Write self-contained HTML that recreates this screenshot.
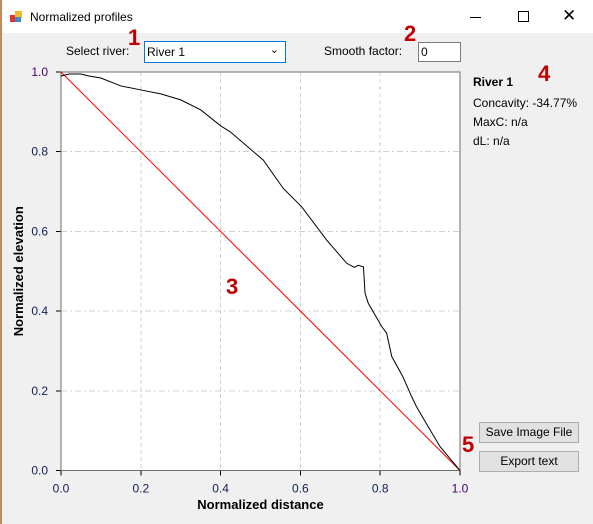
<!DOCTYPE html>
<html><head><meta charset="utf-8"><style>
body{margin:0;width:593px;height:524px;overflow:hidden;background:#f0f0f0;font-family:"Liberation Sans",sans-serif;position:relative}
.abs{position:absolute}
.t{font-size:12px;color:#000}
.red{color:#c00000;font-weight:bold;font-size:22px}
.btn{position:absolute;background:#e1e1e1;border:1px solid #adadad;box-sizing:border-box;font-size:12px;text-align:center;line-height:18px}
</style></head><body>
<div class="abs" style="left:0;top:0;width:2px;height:524px;background:#c8875a"></div>
<div class="abs" style="left:2px;top:0;width:591px;height:33px;background:#fff"></div>
<div class="abs" style="left:10px;top:11px;width:12px;height:12px;">
 <div class="abs" style="left:0;top:4px;width:6px;height:7px;background:#d33"></div>
 <div class="abs" style="left:5px;top:0;width:7px;height:7px;background:#eb3"></div>
 <div class="abs" style="left:5px;top:6px;width:6px;height:5px;background:#48c"></div>
</div>
<div class="abs t" style="left:30px;top:10px">Normalized profiles</div>
<div class="abs" style="left:470px;top:17px;width:11px;height:1px;background:#000"></div>
<div class="abs" style="left:518px;top:11px;width:9px;height:9px;border:1px solid #000"></div>
<div class="abs" style="left:562px;top:6px;font-size:17px">✕</div>

<div class="abs t" style="left:66px;top:44px">Select river:</div>
<div class="abs" style="left:144px;top:41px;width:142px;height:22px;box-sizing:border-box;border:1px solid #0078d7;background:#fff;font-size:12px;padding:3px 2px">River 1<span style="position:absolute;right:6px;top:1px;font-size:11px">⌄</span></div>
<div class="abs red" style="left:128px;top:25px">1</div>
<div class="abs t" style="left:324px;top:44px">Smooth factor:</div>
<div class="abs" style="left:418px;top:42px;width:43px;height:20px;box-sizing:border-box;border:1px solid #7a7a7a;background:#fff;font-size:12px;padding:2px 2px">0</div>
<div class="abs red" style="left:404px;top:21px">2</div>

<div class="abs t" style="left:473px;top:75px;font-weight:bold">River 1</div>
<div class="abs red" style="left:538px;top:61px">4</div>
<div class="abs t" style="left:473px;top:96px">Concavity: -34.77%</div>
<div class="abs t" style="left:473px;top:115px">MaxC: n/a</div>
<div class="abs t" style="left:473px;top:134px">dL: n/a</div>

<div class="btn" style="left:479px;top:422px;width:100px;height:21px">Save Image File</div>
<div class="btn" style="left:479px;top:451px;width:100px;height:21px">Export text</div>
<div class="abs red" style="left:462px;top:432px">5</div>

<svg class="abs" style="left:0;top:0" width="593" height="524" id="chart"></svg>
<div class="abs red" style="left:226px;top:274px">3</div>
<script>
const xTicks=[0,0.2,0.4,0.6,0.8,1.0];
const yTicks=[0,0.2,0.4,0.6,0.8,1.0];
const tickLabels=["0.0","0.2","0.4","0.6","0.8","1.0"];
const profX=[0,0.02,0.05,0.07,0.1,0.15,0.2,0.25,0.3,0.35,0.4,0.424,0.507,0.557,0.603,0.666,0.716,0.735,0.745,0.758,0.762,0.77,0.804,0.816,0.829,0.857,0.879,0.891,0.925,0.95,0.975,1.0];
const profY=[0.99,0.995,0.995,0.99,0.985,0.965,0.955,0.945,0.93,0.905,0.865,0.85,0.779,0.708,0.662,0.578,0.52,0.51,0.515,0.511,0.445,0.42,0.361,0.345,0.286,0.235,0.185,0.16,0.102,0.06,0.03,0];
const refX=[0,1];
const refY=[1,0];
const X0=61,X1=460,Y0=470.5,Y1=72;
const sx=v=>X0+v*(X1-X0), sy=v=>Y0-v*(Y0-Y1);
const svg=document.getElementById('chart');const NS='http://www.w3.org/2000/svg';
function mk(t,a){const e=document.createElementNS(NS,t);for(const k in a)e.setAttribute(k,a[k]);svg.appendChild(e);return e;}
const bg=mk('rect',{x:X0,y:Y1,width:X1-X0,height:Y0-Y1,fill:'#fff'});


xTicks.forEach((v,i)=>{
 if(i>0&&i<5){const g=mk('line',{x1:sx(v),x2:sx(v),y1:Y1,y2:Y0,stroke:'#d0d0d0','stroke-dasharray':'4,3','shape-rendering':'crispEdges'});
 
 }
 const tk=mk('line',{x1:sx(v),x2:sx(v),y1:Y0,y2:Y0+5,stroke:'#000','shape-rendering':'crispEdges'});
 
 
 const t=mk('text',{x:sx(v),y:Y0+22,'text-anchor':'middle','font-size':'12','font-family':'Liberation Sans',fill:i==5?'#400060':'#102050'});t.textContent=tickLabels[i];
 
 
});
yTicks.forEach((v,i)=>{
 if(i>0&&i<5){const g=mk('line',{x1:X0,x2:X1,y1:sy(v),y2:sy(v),stroke:'#d0d0d0','stroke-dasharray':'6,3,2,3','shape-rendering':'crispEdges'});
 
 }
 const tk=mk('line',{x1:X0-5,x2:X0,y1:sy(v),y2:sy(v),stroke:'#000','shape-rendering':'crispEdges'});
 
 
 const t=mk('text',{x:X0-13,y:sy(v)+4,'text-anchor':'end','font-size':'12','font-family':'Liberation Sans',fill:i==5?'#400060':'#102050'});t.textContent=tickLabels[i];
 
 
});
const fr=mk('rect',{x:X0,y:Y1,width:X1-X0,height:Y0-Y1,fill:'none',stroke:'#6e6e6e'});


const rl=mk('polyline',{points:refX.map((v,i)=>sx(v)+','+sy(refY[i])).join(' '),fill:'none',stroke:'#ff0000','stroke-width':'1'});


const pl=mk('polyline',{points:profX.map((v,i)=>sx(v)+','+sy(profY[i])).join(' '),fill:'none',stroke:'#000','stroke-width':'1'});


const xt=mk('text',{x:(X0+X1)/2,y:509,'text-anchor':'middle','font-size':'13','font-weight':'bold','font-family':'Liberation Sans'});xt.textContent='Normalized distance';


const yt=mk('text',{x:0,y:0,'text-anchor':'middle','font-size':'13','font-weight':'bold','font-family':'Liberation Sans',transform:'translate(23,'+((Y0+Y1)/2)+') rotate(-90)'});yt.textContent='Normalized elevation';


</script>
</body></html>
